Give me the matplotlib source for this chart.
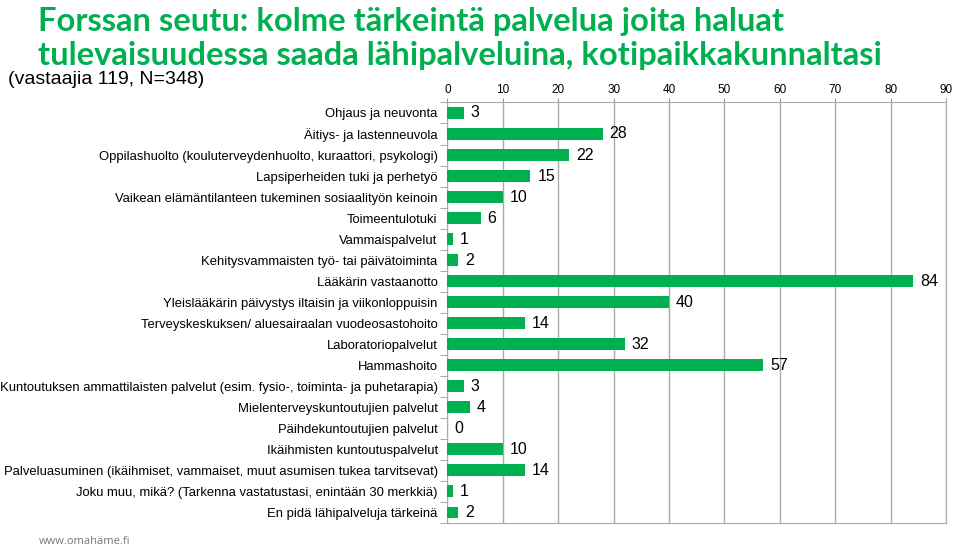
import numpy as np
import matplotlib.pyplot as plt

categories = [
    "Ohjaus ja neuvonta",
    "Äitiys- ja lastenneuvola",
    "Oppilashuolto (kouluterveydenhuolto, kuraattori, psykologi)",
    "Lapsiperheiden tuki ja perhetyö",
    "Vaikean elämäntilanteen tukeminen sosiaalityön keinoin",
    "Toimeentulotuki",
    "Vammaispalvelut",
    "Kehitysvammaisten työ- tai päivätoiminta",
    "Lääkärin vastaanotto",
    "Yleislääkärin päivystys iltaisin ja viikonloppuisin",
    "Terveyskeskuksen/ aluesairaalan vuodeosastohoito",
    "Laboratoriopalvelut",
    "Hammashoito",
    "Kuntoutuksen ammattilaisten palvelut (esim. fysio-, toiminta- ja puhetarapia)",
    "Mielenterveyskuntoutujien palvelut",
    "Päihdekuntoutujien palvelut",
    "Ikäihmisten kuntoutuspalvelut",
    "Palveluasuminen (ikäihmiset, vammaiset, muut asumisen tukea tarvitsevat)",
    "Joku muu, mikä? (Tarkenna vastatustasi, enintään 30 merkkiä)",
    "En pidä lähipalveluja tärkeinä",
]
values = [3, 28, 22, 15, 10, 6, 1, 2, 84, 40, 14, 32, 57, 3, 4, 0, 10, 14, 1, 2]
xticks = list(range(0, 100, 10))

GREEN = "#00B050"
plt.rcParams["font.family"] = ["Liberation Sans", "DejaVu Sans"]

fig = plt.figure(figsize=(9.6, 5.48), dpi=100)
ax = fig.add_axes([0.466, 0.046, 0.5195, 0.767])

y = np.arange(len(categories))
ax.barh(y, values, height=0.55, color=GREEN, zorder=3)
for yi, v in zip(y, values):
    ax.annotate(str(v), (v, yi), xytext=(5, 0), textcoords="offset points",
                va="center", ha="left", fontsize=11.5, color="black")

ax.set_xlim(0, 90)
ax.set_ylim(len(categories) - 0.5, -0.5)
ax.xaxis.tick_top()
ax.set_xticks(xticks)
ax.tick_params(axis="x", labelsize=8.5, length=3, color="#999999", pad=2)
ax.grid(axis="x", color="#aaaaaa", linewidth=1, zorder=0)

ax.set_yticks(y)
ax.set_yticklabels(categories, fontsize=9.4)
ax.tick_params(axis="y", length=0, pad=7)
ax.set_yticks(np.arange(-0.5, len(categories), 1), minor=True)
ax.tick_params(axis="y", which="minor", length=5, color="#999999")
for s in ax.spines.values():
    s.set_color("#aaaaaa")

fig.text(0.040, 0.988, "Forssan seutu: kolme tärkeintä palvelua joita haluat\n"
         "tulevaisuudessa saada lähipalveluina, kotipaikkakunnaltasi",
         color=GREEN, fontsize=23.6, fontweight="bold", family="Lato",
         va="top", ha="left", linespacing=1.22)
fig.text(0.008, 0.855, "(vastaajia 119, N=348)", fontsize=14, va="center", ha="left")
fig.text(0.040, 0.012, "www.omahäme.fi", fontsize=8, color="#777777",
         family="Open Sans", va="center", ha="left")

fig.savefig("out.png", dpi=100)
